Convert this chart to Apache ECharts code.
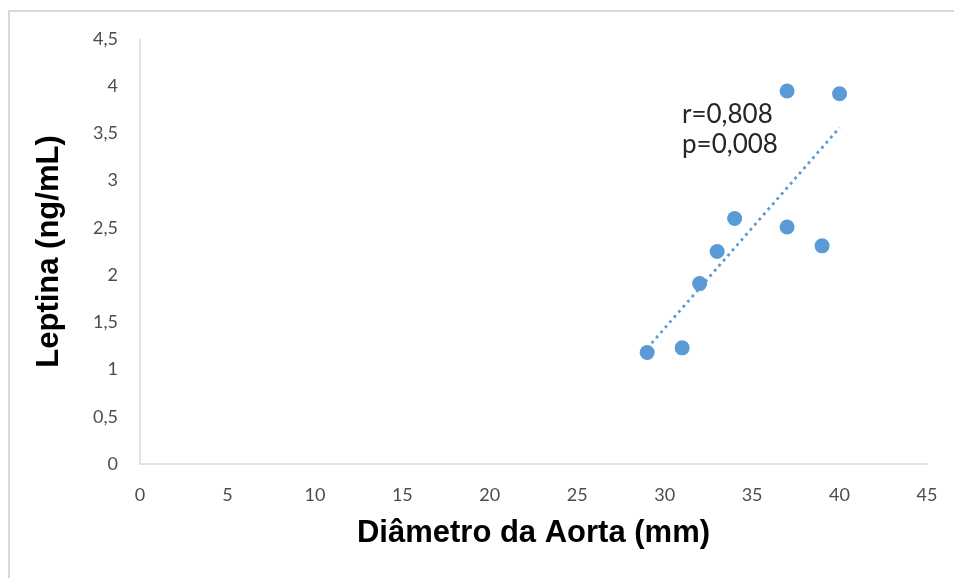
<!DOCTYPE html>
<html>
<head>
<meta charset="utf-8">
<script src="https://cdn.jsdelivr.net/npm/echarts@6/dist/echarts.min.js"></script>
<style>
  html, body { margin: 0; padding: 0; background: #ffffff; }
  #frame { position: absolute; left: 8px; top: 10px; width: 946px; height: 568px;
           border-top: 2px solid #d9d9d9; border-left: 2px solid #d9d9d9; box-sizing: border-box; }
  #chart { position: absolute; left: 0; top: 0; width: 954px; height: 578px; }
</style>
</head>
<body>
<div id="frame"></div>
<div id="chart"></div>
<script>
// Aortic diameter (mm) vs. leptin (ng/mL)
const diameter = [29, 31, 32, 33, 34, 37, 39, 37, 40];
const leptin   = [1.18, 1.23, 1.91, 2.25, 2.60, 2.51, 2.31, 3.95, 3.92];
const xTicks = [0, 5, 10, 15, 20, 25, 30, 35, 40, 45];
const yTicks = [0, 0.5, 1, 1.5, 2, 2.5, 3, 3.5, 4, 4.5];
const statsText = ['r=0,808', 'p=0,008'];

const points = diameter.map((d, i) => [d, leptin[i]]);

// Least-squares trend line over the observed diameter range
const n = points.length;
const mx = diameter.reduce((a, b) => a + b, 0) / n;
const my = leptin.reduce((a, b) => a + b, 0) / n;
let sxy = 0, sxx = 0;
for (let i = 0; i < n; i++) {
  sxy += (diameter[i] - mx) * (leptin[i] - my);
  sxx += (diameter[i] - mx) * (diameter[i] - mx);
}
const slope = sxy / sxx;
const icpt = my - slope * mx;
const xMin = Math.min(...diameter), xMax = Math.max(...diameter);
const trend = [[xMin, icpt + slope * xMin], [xMax, icpt + slope * xMax]];

const fmt = v => String(v).replace('.', ',');

const chart = echarts.init(document.getElementById('chart'), null, { renderer: 'canvas' });
chart.setOption({
  animation: false,
  grid: { left: 140, right: 27, top: 39, bottom: 114 },
  xAxis: {
    type: 'value', min: xTicks[0], max: xTicks[xTicks.length - 1], interval: 5,
    name: 'Diâmetro da Aorta (mm)', nameLocation: 'middle', nameGap: 54,
    nameTextStyle: { fontFamily: 'Liberation Sans', fontWeight: 'bold', fontSize: 31, color: '#000000' },
    axisLine: { show: true, lineStyle: { color: '#d9d9d9', width: 1.5 } },
    axisTick: { show: false },
    splitLine: { show: false },
    axisLabel: { color: '#4d4d4d', fontFamily: 'Lato', fontSize: 18, margin: 22, formatter: fmt }
  },
  yAxis: {
    type: 'value', min: yTicks[0], max: yTicks[yTicks.length - 1], interval: 0.5,
    name: 'Leptina (ng/mL)', nameLocation: 'middle', nameGap: 75, nameRotate: 90,
    nameTextStyle: { fontFamily: 'Liberation Sans', fontWeight: 'bold', fontSize: 31, color: '#000000' },
    axisLine: { show: true, lineStyle: { color: '#d9d9d9', width: 1.5 } },
    axisTick: { show: false },
    splitLine: { show: false },
    axisLabel: { color: '#4d4d4d', fontFamily: 'Lato', fontSize: 18, margin: 22, formatter: fmt }
  },
  series: [
    {
      type: 'line', data: trend, symbol: 'none', silent: true, z: 1,
      lineStyle: { color: '#5b9bd5', width: 2.8, type: [2.8, 4] }
    },
    {
      type: 'scatter', data: points, symbol: 'circle', symbolSize: 15, z: 2,
      itemStyle: { color: '#5b9bd5', opacity: 1 }
    }
  ],
  graphic: [
    {
      type: 'text', left: 682, top: 100,
      style: { text: statsText.join('\n'), font: '26px Lato', lineHeight: 30, fill: '#262626' }
    }
  ]
});
</script>
</body>
</html>
